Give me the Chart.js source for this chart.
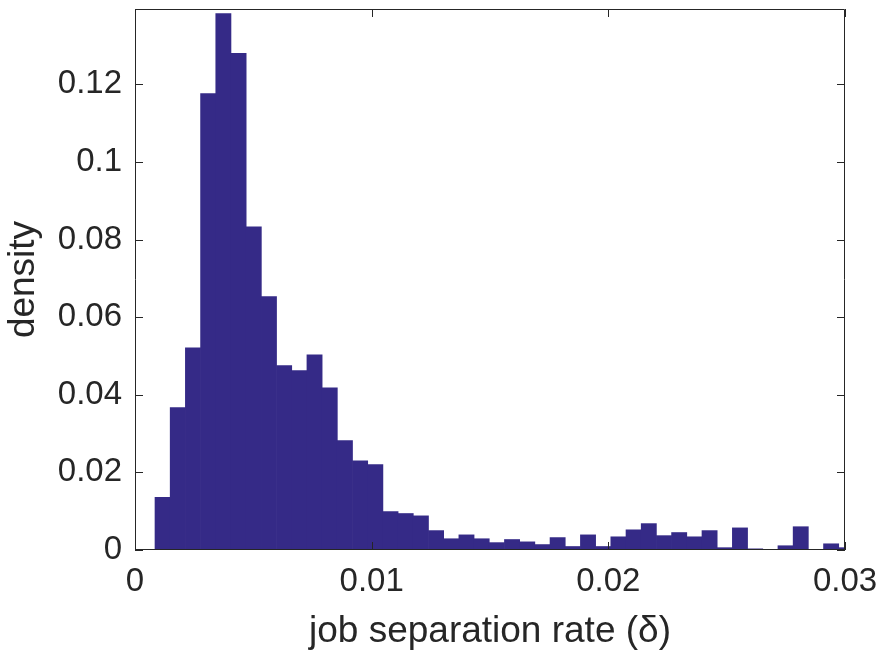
<!DOCTYPE html>
<html>
<head>
<meta charset="utf-8">
<title>Job separation rate density</title>
<script src="https://cdn.jsdelivr.net/npm/chart.js@4"></script>
<style>
  body { margin: 0; background: #fff; }
  canvas { display: block; }
</style>
</head>
<body>
<canvas id="histChart" width="883" height="656"></canvas>
<script>
// Histogram bins (job separation rate)
const binStart = 0.000845;
const binWidth = 0.000642;
const density = [
  0.0136, 0.0367, 0.0521, 0.1176, 0.1382, 0.1280, 0.0833, 0.0653, 0.0475, 0.0462,
  0.0503, 0.0418, 0.0282, 0.0230, 0.0220, 0.0099, 0.0094, 0.0088, 0.0050, 0.0029,
  0.0039, 0.0029, 0.0019, 0.0027, 0.0021, 0.0014, 0.0032, 0.0009, 0.0039, 0.0009,
  0.0034, 0.0052, 0.0068, 0.0037, 0.0045, 0.0034, 0.0050, 0.0006, 0.0057, 0.0003,
  0.0000, 0.0011, 0.0060, 0.0000, 0.0016, 0.0006
];
const binCenters = density.map((_, i) => binStart + (i + 0.5) * binWidth);

// Axis ticks
const xTicks = [0, 0.01, 0.02, 0.03];
const yTicks = [0, 0.02, 0.04, 0.06, 0.08, 0.1, 0.12];
const xRange = [0, 0.03];
const yRange = [0, 0.1394];

const axisColor = '#262626';
const barColor = '#352A87';
const fontFamily = '"Liberation Sans", Arial, Helvetica, sans-serif';

const fmt = (v) => String(+Number(v).toFixed(4));

// Box around the plot with inward ticks on all four sides
const boxAxes = {
  id: 'boxAxes',
  afterDatasetsDraw(chart) {
    const { ctx, chartArea: a, scales: { x, y } } = chart;
    const len = 8;
    ctx.save();
    ctx.strokeStyle = axisColor;
    ctx.lineWidth = 1;
    ctx.beginPath();
    ctx.rect(a.left + 0.5, a.top + 0.5, a.right - a.left - 1, a.bottom - a.top - 1);
    xTicks.forEach(v => {
      const px = Math.round(x.getPixelForValue(v)) + 0.5;
      ctx.moveTo(px, a.bottom);
      ctx.lineTo(px, a.bottom - len);
      ctx.moveTo(px, a.top);
      ctx.lineTo(px, a.top + len);
    });
    yTicks.forEach(v => {
      const py = Math.round(y.getPixelForValue(v)) + 0.5;
      ctx.moveTo(a.left, py);
      ctx.lineTo(a.left + len, py);
      ctx.moveTo(a.right, py);
      ctx.lineTo(a.right - len, py);
    });
    ctx.stroke();
    ctx.restore();
  }
};

new Chart(document.getElementById('histChart'), {
  type: 'bar',
  data: {
    datasets: [{
      data: binCenters.map((c, i) => ({ x: c, y: density[i] })),
      backgroundColor: barColor,
      borderWidth: 0,
      barPercentage: 1,
      categoryPercentage: 1
    }]
  },
  options: {
    responsive: false,
    animation: false,
    events: [],
    layout: { padding: { top: 9, right: 38, left: 0, bottom: 0 } },
    plugins: { legend: { display: false }, tooltip: { enabled: false } },
    scales: {
      x: {
        type: 'linear',
        offset: false,
        min: xRange[0],
        max: xRange[1],
        afterBuildTicks: (s) => { s.ticks = xTicks.map(v => ({ value: v })); },
        afterFit: (s) => {
          s.height = 106;
          s.paddingLeft = 0;
          s.paddingRight = 0;
        },
        grid: { display: false, drawTicks: false },
        border: { display: false },
        ticks: {
          padding: 12,
          maxRotation: 0,
          color: axisColor,
          font: { family: fontFamily, size: 33 },
          callback: fmt
        },
        title: {
          display: true,
          text: 'job separation rate (δ)',
          color: axisColor,
          padding: { top: 0, bottom: 2 },
          font: { family: fontFamily, size: 37 }
        }
      },
      y: {
        min: yRange[0],
        max: yRange[1],
        afterBuildTicks: (s) => { s.ticks = yTicks.map(v => ({ value: v })); },
        afterFit: (s) => {
          s.width = 135;
          s.paddingTop = 0;
          s.paddingBottom = 0;
        },
        grid: { display: false, drawTicks: false },
        border: { display: false },
        ticks: {
          padding: 13,
          color: axisColor,
          font: { family: fontFamily, size: 33 },
          callback: fmt
        },
        title: {
          display: true,
          text: 'density',
          color: axisColor,
          padding: { top: 2, bottom: 0 },
          font: { family: fontFamily, size: 37 }
        }
      }
    }
  },
  plugins: [boxAxes]
});
</script>
</body>
</html>
